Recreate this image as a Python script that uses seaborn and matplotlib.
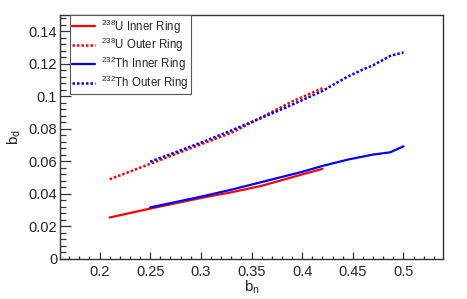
import matplotlib
matplotlib.use("Agg")
import matplotlib.pyplot as plt
import seaborn as sns
import pandas as pd
from matplotlib.ticker import MultipleLocator, FuncFormatter

# ---- data ----
u_inner_x = [0.21, 0.25, 0.30, 0.33, 0.36, 0.38, 0.40, 0.42]
u_inner_y = [0.0255, 0.031, 0.0375, 0.041, 0.045, 0.0485, 0.052, 0.0554]

u_outer_x = [0.21, 0.25, 0.30, 0.33, 0.36, 0.39, 0.42]
u_outer_y = [0.049, 0.0585, 0.0705, 0.0775, 0.0872, 0.0968, 0.105]

th_inner_x = [0.25, 0.30, 0.33, 0.36, 0.40, 0.42, 0.445, 0.47, 0.487, 0.50]
th_inner_y = [0.0317, 0.0383, 0.0426, 0.0473, 0.0536, 0.0572, 0.0611, 0.0642, 0.0656, 0.0693]

th_outer_x = [0.25, 0.28, 0.30, 0.33, 0.36, 0.39, 0.42, 0.445, 0.46, 0.47, 0.48, 0.487, 0.50]
th_outer_y = [0.0598, 0.0668, 0.0715, 0.079, 0.0868, 0.0948, 0.1033, 0.1122, 0.1165, 0.1191, 0.1225, 0.1249, 0.127]

labels = [r"$^{238}$U Inner Ring", r"$^{238}$U Outer Ring",
          r"$^{232}$Th Inner Ring", r"$^{232}$Th Outer Ring"]
x_label = r"$\mathregular{b_n}$"
y_label = r"$\mathregular{b_d}$"

sns.set_style("ticks")
plt.rcParams['font.family'] = ['Liberation Sans', 'DejaVu Sans']
plt.rcParams['mathtext.fontset'] = 'custom'
plt.rcParams['mathtext.rm'] = 'Liberation Sans'
plt.rcParams['mathtext.it'] = 'Liberation Sans:italic'
plt.rcParams['mathtext.default'] = 'regular'

fig = plt.figure(figsize=(4.67, 2.99), dpi=100)
ax = fig.add_axes([0.1285, 0.1338, 0.8201, 0.816])

series = [
    (u_inner_x, u_inner_y, labels[0], "#ff0000", "-"),
    (u_outer_x, u_outer_y, labels[1], "#ff0000", (0, (1, 0.8))),
    (th_inner_x, th_inner_y, labels[2], "#0000ff", "-"),
    (th_outer_x, th_outer_y, labels[3], "#0000ff", (0, (1, 0.8))),
]
for xs, ys, lab, col, ls in series:
    df = pd.DataFrame({"x": xs, "y": ys})
    lw = 1.6 if ls == "-" else 1.8
    sns.lineplot(data=df, x="x", y="y", ax=ax, color=col, linestyle=ls,
                 linewidth=lw, label=lab, sort=False, estimator=None)

ax.set_xlim(0.161, 0.539)
ax.set_ylim(0, 0.15)
ax.xaxis.set_major_locator(MultipleLocator(0.05))
ax.xaxis.set_minor_locator(MultipleLocator(0.01))
ax.yaxis.set_major_locator(MultipleLocator(0.02))
ax.yaxis.set_minor_locator(MultipleLocator(0.004))
fmt = FuncFormatter(lambda v, p: "%g" % round(v, 4))
ax.xaxis.set_major_formatter(fmt)
ax.yaxis.set_major_formatter(fmt)

ax.tick_params(axis='both', which='both', direction='in', top=False, right=False,
               labelsize=10.5, color='#333333', width=0.9)
ax.tick_params(axis='y', which='major', length=8, pad=2)
ax.tick_params(axis='y', which='minor', length=4)
ax.tick_params(axis='x', which='major', length=5, pad=4)
ax.tick_params(axis='x', which='minor', length=2.5)
for s in ax.spines.values():
    s.set_visible(True)
    s.set_linewidth(1.0)
    s.set_color('#333333')

ax.set_xlabel(x_label, fontsize=11, labelpad=0)
ax.set_ylabel(y_label, fontsize=11, labelpad=4)

leg = ax.legend(loc='upper left', bbox_to_anchor=(0.026, 1.0), fontsize=8.3,
                frameon=True, fancybox=False, framealpha=1, edgecolor='#555555',
                handlelength=2.0, handletextpad=0.5, borderpad=0.2,
                labelspacing=0.05, borderaxespad=0)
leg.get_frame().set_linewidth(0.8)

fig.savefig("out.png", dpi=100)
